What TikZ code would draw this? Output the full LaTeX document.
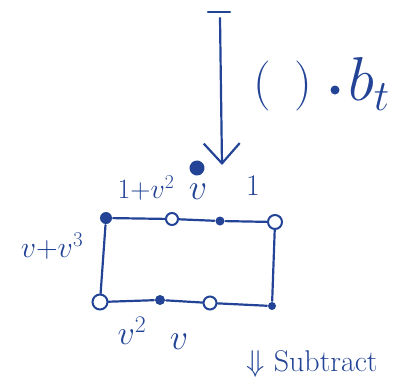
\RequirePackage{fix-cm}
\documentclass[tikz,border=0pt]{standalone}
\usepackage{amsmath, amssymb}
\usepackage{tikz}
\usetikzlibrary{arrows.meta,positioning,calc}
\definecolor{ink}{RGB}{35,68,150}

\begin{document}
\begin{tikzpicture}[
    x=1pt, y=-1pt,
    line width=2.2pt, draw=ink, line cap=round,
    every node/.style={text=ink, font=\fontsize{30}{32}\selectfont},
    open/.style={circle, draw=ink, fill=white, inner sep=0pt, minimum size=13pt, line width=2pt},
    full/.style={circle, fill=ink, inner sep=0pt, minimum size=9pt}
]
\useasboundingbox (0,0) rectangle (398,383);

% incoming arrow
\coordinate (barL) at (208,12);
\coordinate (barR) at (230,12);
\coordinate (top) at (220,18);
\coordinate (tip) at (222,165);
\draw (barL) -- (barR);
\draw[-{Straight Barb[length=20pt,width=36pt,line width=2.2pt]}] (top) -- (tip);
\node[font=\fontsize{50}{54}\selectfont] (paren) at (283,86) {$(\hspace{24pt})$};
\node[full, minimum size=9pt] (times) at (335,90) {};
\node[font=\fontsize{62}{66}\selectfont, inner sep=0pt] (bt) at (369,84) {$b_t$};
\node[full, minimum size=15pt, rotate=30] (mark) at (197,168) {};

% cycle
\node[full, minimum size=12pt] (tl) at (106,218) {};
\node[open, minimum size=12pt] (t1) at (172,219) {};
\node[full] (t2) at (220,221) {};
\node[open, minimum size=14pt] (tr) at (275,222) {};
\node[open, minimum size=15pt] (bl) at (100,302) {};
\node[full, minimum size=10pt] (b1) at (160,300) {};
\node[open] (b2) at (210,303) {};
\node[full, minimum size=8pt] (br) at (272,306) {};

\draw (tl) -- (t1) -- (t2) -- (tr);
\draw (tr) -- (br);
\draw (bl) -- (b1) -- (b2) -- (br);
\draw (tl) -- (bl);

% labels
\node[font=\fontsize{28}{30}\selectfont] (l1) at (146,188) {$1{+}v^2$};
\node[font=\fontsize{36}{38}\selectfont] (l2) at (198,192) {$v$};
\node (l3) at (253,186) {$1$};
\node (l4) at (52,246) {$v{+}v^3$};
\node[font=\fontsize{34}{36}\selectfont] (l5) at (132,331) {$v^2$};
\node[font=\fontsize{36}{38}\selectfont] (l6) at (179,342) {$v$};
\node (sub) at (312,364) {$\Downarrow$ Subtract};
\end{tikzpicture}
\end{document}
